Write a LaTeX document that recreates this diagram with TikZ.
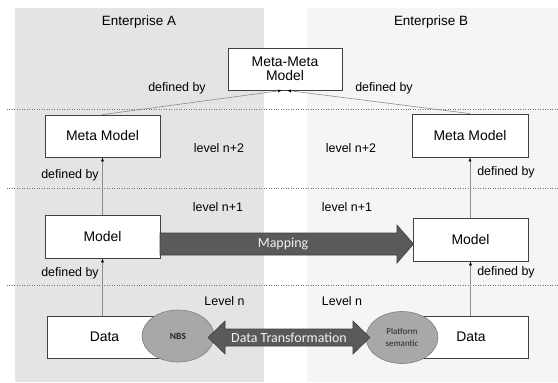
\documentclass[tikz,border=0pt]{standalone}
\usepackage{fontspec}
\setmainfont{Liberation Sans}
\newfontfamily\calib{Carlito}
\usetikzlibrary{arrows.meta,calc,shapes.geometric}
\definecolor{bgA}{HTML}{E4E4E4}
\definecolor{bgB}{HTML}{F5F5F5}
\definecolor{arrfill}{HTML}{5A5A5A}
\definecolor{arrline}{HTML}{3F3F3F}
\definecolor{ellfill}{HTML}{A8A8A8}
\definecolor{ellline}{HTML}{808080}
\definecolor{conn}{HTML}{8C8C8C}
\tikzset{
  box/.style={draw=black!75,fill=white,line width=0.8pt,inner sep=0pt},
  boxtxt/.style={font=\fontsize{14}{16}\selectfont},
  lbl/.style={font=\fontsize{12.5}{14}\selectfont,inner sep=0pt},
  defby/.style={draw=conn,line width=0.6pt,-{Latex[length=4pt,width=3pt,black]}},
  sep/.style={draw=black!55,dotted,line width=0.5pt},
  blockarrow/.style={fill=arrfill,draw=arrline,line width=0.6pt},
  sem/.style={ellipse,fill=ellfill,draw=ellline,line width=0.6pt,inner sep=0pt,text=black!85},
}
\begin{document}
\begin{tikzpicture}[x=1bp,y=-1bp]
\useasboundingbox (0,0) rectangle (558,382);
\fill[white] (0,0) rectangle (558,382);
% enterprise backgrounds
\fill[bgA] (15,8) rectangle (264,382);
\fill[bgB] (307,8) rectangle (558,382);
\node[lbl,font=\fontsize{13.5}{15}\selectfont] (entA) at (139,22) {Enterprise A};
\node[lbl,font=\fontsize{13.5}{15}\selectfont] (entB) at (431,22) {Enterprise B};
% level separators
\coordinate (s1l) at (7,109); \coordinate (s1r) at (558,109);
\coordinate (s2l) at (7,188); \coordinate (s2r) at (558,188);
\coordinate (s3l) at (7,285); \coordinate (s3r) at (558,285);
\draw[sep] (s1l) -- (s1r);
\draw[sep] (s2l) -- (s2r);
\draw[sep] (s3l) -- (s3r);
% boxes
\node[box,minimum width=114bp,minimum height=42bp,boxtxt,align=center] (mm) at (285,69) {Meta-Meta\\[-2pt]Model};
\node[box,minimum width=115bp,minimum height=42bp,boxtxt] (metaA) at (102.5,136) {Meta Model};
\node[box,minimum width=116bp,minimum height=43bp,boxtxt] (metaB) at (470,135.5) {Meta Model};
\node[box,minimum width=115bp,minimum height=43bp,boxtxt] (modA) at (102.5,236.5) {Model};
\node[box,minimum width=115bp,minimum height=43bp,boxtxt] (modB) at (470.5,239.5) {Model};
\node[box,minimum width=115bp,minimum height=42bp,boxtxt] (datA) at (104.5,337) {Data};
\node[box,minimum width=114bp,minimum height=42bp,boxtxt] (datB) at (471,337) {Data};
% defined-by connectors
\draw[defby] (metaA.north) -- ($(mm.south)+(-3,0)$);
\draw[defby] (metaB.north) -- ($(mm.south)+(2,0)$);
\draw[defby] (modA.north) -- (metaA.south);
\draw[defby] (datA.north -| modA.south) -- (modA.south);
\draw[defby] (modB.north -| metaB.south) -- (metaB.south);
\draw[defby] (datB.north -| modB.south) -- (modB.south);
\node[lbl] (d1) at (177,88) {defined by};
\node[lbl] (d2) at (384,88) {defined by};
\node[lbl] (d3) at (70,175) {defined by};
\node[lbl] (d4) at (506,172) {defined by};
\node[lbl] (d5) at (70,273) {defined by};
\node[lbl] (d6) at (506,272) {defined by};
% level labels
\node[lbl] (l2a) at (219,148) {level n+2};
\node[lbl] (l2b) at (351,148) {level n+2};
\node[lbl] (l1a) at (218,207) {level n+1};
\node[lbl] (l1b) at (347,207) {level n+1};
\node[lbl] (l0a) at (224.5,301) {Level n};
\node[lbl] (l0b) at (342,301) {Level n};
% semantic ellipses
\node[sem,minimum width=72bp,minimum height=52bp,font=\calib\bfseries\fontsize{9.5}{11}\selectfont] (nbs) at (178,336) {NBS};
\node[sem,minimum width=72bp,minimum height=52bp,font=\calib\fontsize{9}{12}\selectfont,align=center] (plat) at (402,337.5) {Platform\\semantic};
% mapping arrow
\draw[blockarrow]
  (160,233) -- (397,233) -- (397,225) -- (413.5,244) -- (397,263) -- (397,255) -- (160,255) -- cycle;
\node[font=\calib\fontsize{14}{16}\selectfont,text=white!95!black] (maplbl) at (283,244) {Mapping};
% data transformation arrow
\draw[blockarrow]
  (208,337.5) -- (225,321) -- (225,329) -- (353,329) -- (353,321) -- (370,337.5) -- (353,354) -- (353,346) -- (225,346) -- (225,354) -- cycle;
\node[font=\calib\fontsize{14}{16}\selectfont,text=white!95!black] (dtlbl) at (289,338) {Data Transformation};
\end{tikzpicture}
\end{document}
